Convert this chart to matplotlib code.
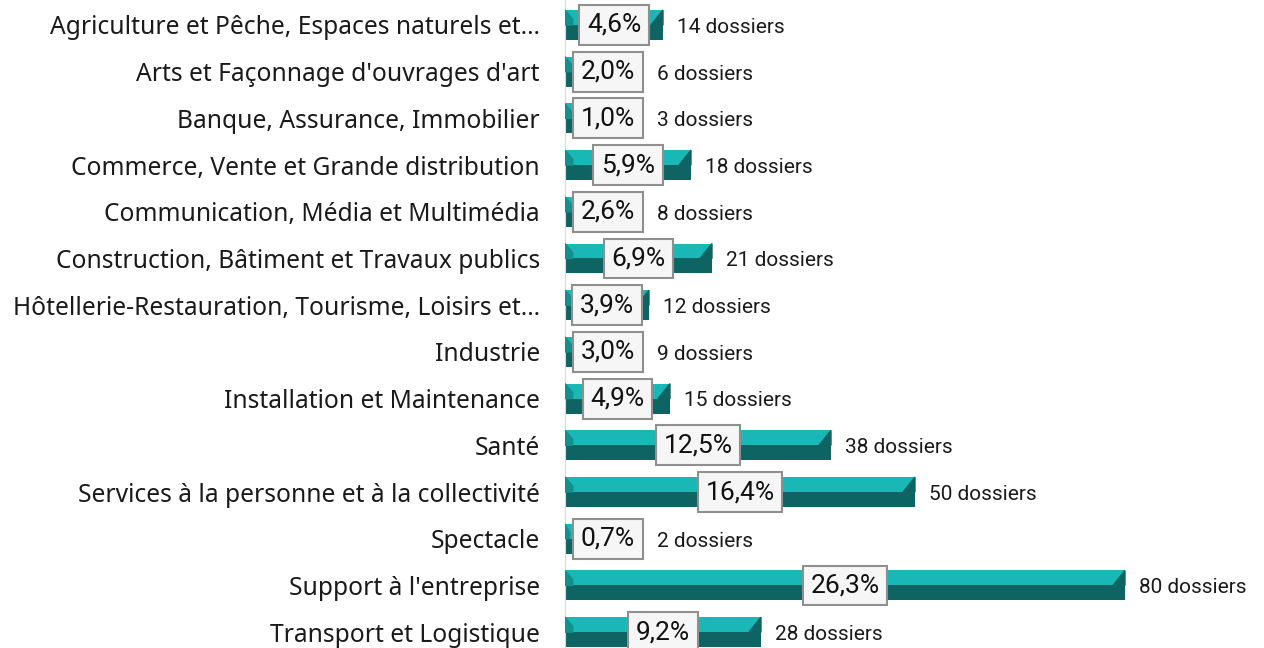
import matplotlib.pyplot as plt
from matplotlib.patches import Polygon

categories = [
    "Agriculture et Pêche, Espaces naturels et…",
    "Arts et Façonnage d'ouvrages d'art",
    "Banque, Assurance, Immobilier",
    "Commerce, Vente et Grande distribution",
    "Communication, Média et Multimédia",
    "Construction, Bâtiment et Travaux publics",
    "Hôtellerie-Restauration, Tourisme, Loisirs et…",
    "Industrie",
    "Installation et Maintenance",
    "Santé",
    "Services à la personne et à la collectivité",
    "Spectacle",
    "Support à l'entreprise",
    "Transport et Logistique",
]
dossiers = [14, 6, 3, 18, 8, 21, 12, 9, 15, 38, 50, 2, 80, 28]
percents = ["4,6%", "2,0%", "1,0%", "5,9%", "2,6%", "6,9%", "3,9%",
            "3,0%", "4,9%", "12,5%", "16,4%", "0,7%", "26,3%", "9,2%"]

light = "#19b7b5"
dark = "#0e6463"
mid_c = "#11908e"

plt.rcParams['font.family'] = ['Noto Sans', 'DejaVu Sans']

W, H = 1264, 648
fig = plt.figure(figsize=(W / 100, H / 100), dpi=100)
x0 = 565
ax = fig.add_axes([x0 / W, 0, 1 - x0 / W, 1])
xmax = 99.86
ax.set_xlim(0, xmax)
ax.set_ylim(13.34, -0.535)
ppu = (W - x0) / xmax  # pixels per data unit

h = 0.64
for i, v in enumerate(dossiers):
    top = i - h / 2
    ax.barh(i, v, height=h, color=dark, zorder=2)
    ax.barh(i - h / 4, v, height=h / 2, color=light, zorder=2)
    b = min(1.7, v / 3)
    bl = min(1.1, v / 3)
    # left bevel
    ax.add_patch(Polygon([(0, top), (bl, top + h * 0.3), (bl, i), (0, i)],
                         closed=True, color=mid_c, zorder=3))
    # right bevel
    ax.add_patch(Polygon([(v, top), (v - b, i), (v, i)],
                         closed=True, color=dark, zorder=3))

ax.set_yticks(range(len(categories)))
ax.set_yticklabels(categories, fontsize=17.7, color="#1a1a1a", fontweight="light")
ax.tick_params(axis="y", length=0, pad=18)
ax.set_xticks([])
for s in ["top", "right", "bottom"]:
    ax.spines[s].set_visible(False)
ax.spines["left"].set_color("#d9d9d9")

# percentage boxes: centred on the bar, or pushed to the bar start when the bar is short
labels = []
for i, v in enumerate(dossiers):
    t = ax.text(v / 2, i, percents[i], ha="center", va="center", fontsize=19,
                color="#111111", zorder=5, family=['Roboto', 'DejaVu Sans'],
                bbox=dict(boxstyle="square,pad=0.3", facecolor="#f6f6f6",
                          edgecolor="#8f8f8f", linewidth=1.5))
    labels.append(t)

fig.canvas.draw()
renderer = fig.canvas.get_renderer()
for i, v in enumerate(dossiers):
    t = labels[i]
    bw = t.get_bbox_patch().get_window_extent(renderer).width / ppu
    if bw + 14 / ppu > v:
        cx = 8 / ppu + bw / 2
        t.set_x(cx)
    else:
        cx = v / 2
    right = max(v, cx + bw / 2)
    ax.text(right + 14 / ppu, i + 0.05, f"{v} dossiers", ha="left", va="center",
            fontsize=15, color="#1a1a1a", family=['Roboto', 'DejaVu Sans'])

fig.savefig("out.png", dpi=100)
